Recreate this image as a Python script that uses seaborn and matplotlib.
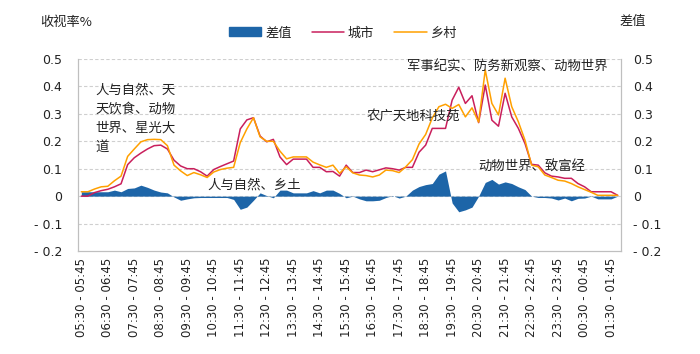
import numpy as np
import pandas as pd
import matplotlib
matplotlib.use("Agg")
import matplotlib.pyplot as plt
from matplotlib.patches import Patch
from matplotlib.lines import Line2D
import seaborn as sns

# ---------------- data ----------------
hours = ["05", "06", "07", "08", "09", "10", "11", "12", "13", "14", "15", "16",
         "17", "18", "19", "20", "21", "22", "23", "00", "01"]

city = [0.000, 0.000, 0.013, 0.020, 0.025, 0.034, 0.045, 0.115, 0.140, 0.157,
        0.172, 0.184, 0.186, 0.172, 0.131, 0.110, 0.100, 0.100, 0.089, 0.073,
        0.097, 0.108, 0.118, 0.128, 0.245, 0.278, 0.286, 0.219, 0.198, 0.207,
        0.143, 0.115, 0.135, 0.135, 0.135, 0.105, 0.105, 0.089, 0.090, 0.073,
        0.113, 0.086, 0.086, 0.095, 0.089, 0.096, 0.103, 0.100, 0.095, 0.105,
        0.105, 0.160, 0.186, 0.247, 0.247, 0.247, 0.350, 0.397, 0.338, 0.366,
        0.268, 0.405, 0.277, 0.255, 0.375, 0.289, 0.247, 0.192, 0.116, 0.113,
        0.085, 0.073, 0.070, 0.065, 0.065, 0.046, 0.034, 0.016, 0.016, 0.016,
        0.016, 0.003]

rural = [0.016, 0.016, 0.026, 0.034, 0.036, 0.056, 0.073, 0.145, 0.172, 0.198,
         0.206, 0.207, 0.206, 0.184, 0.113, 0.092, 0.075, 0.086, 0.078, 0.068,
         0.088, 0.097, 0.102, 0.105, 0.195, 0.245, 0.286, 0.216, 0.200, 0.200,
         0.164, 0.136, 0.143, 0.143, 0.143, 0.124, 0.114, 0.105, 0.113, 0.083,
         0.107, 0.085, 0.077, 0.075, 0.070, 0.077, 0.095, 0.093, 0.086, 0.107,
         0.133, 0.190, 0.225, 0.285, 0.326, 0.335, 0.320, 0.334, 0.289, 0.322,
         0.270, 0.460, 0.338, 0.296, 0.430, 0.326, 0.271, 0.204, 0.113, 0.107,
         0.077, 0.068, 0.058, 0.055, 0.046, 0.034, 0.024, 0.014, 0.003, 0.003,
         0.003, 0.003]

diff = [0.016, 0.016, 0.016, 0.016, 0.016, 0.022, 0.016, 0.028, 0.030, 0.040,
        0.032, 0.022, 0.015, 0.012, -0.003, -0.015, -0.010, -0.006, -0.005, -0.005,
        -0.005, -0.005, -0.005, -0.012, -0.048, -0.040, -0.015, 0.012, 0.002, -0.006,
        0.022, 0.022, 0.012, 0.012, 0.012, 0.020, 0.012, 0.022, 0.022, 0.010,
        -0.006, 0.000, -0.010, -0.017, -0.017, -0.015, -0.005, 0.002, -0.007, 0.000,
        0.022, 0.035, 0.042, 0.046, 0.080, 0.092, -0.025, -0.057, -0.050, -0.040,
        0.000, 0.050, 0.061, 0.044, 0.052, 0.046, 0.034, 0.024, 0.000, -0.005,
        -0.005, -0.007, -0.014, -0.007, -0.017, -0.008, -0.007, 0.000, -0.010, -0.010,
        -0.010, 0.000]

tick_labels = [f"{h}:30 - {h}:45" for h in hours]
tick_idx = list(range(0, 82, 4))

y_ticks = [0.5, 0.4, 0.3, 0.2, 0.1, 0.0, -0.1, -0.2]
y_tick_labels = ["0.5", "0.4", "0.3", "0.2", "0.1", "0", "- 0.1", "- 0.2"]

annotations = [
    ("人与自然、天\n天饮食、动物\n世界、星光大\n道", 95, 83),
    ("人与自然、乡土", 207, 178),
    ("农广天地科技苑", 367, 110),
    ("军事纪实、防务新观察、动物世界", 407, 60),
    ("动物世界、致富经", 478, 160),
]

df = pd.DataFrame({"idx": np.arange(len(city)), "城市": city, "乡村": rural, "差值": diff})

# ---------------- style ----------------
sns.set_theme(style="white")
plt.rcParams["font.family"] = ["Noto Sans CJK SC", "DejaVu Sans"]

BLUE = "#1D65A8"
CITY = "#C91F5C"
RURAL = "#FFA000"
GRID = "#CFCFCF"
AXC = "#BFBFBF"
TXT = "#222222"

fig = plt.figure(figsize=(7.0, 3.54), dpi=100)
ax = fig.add_axes([78 / 700, 1 - 251 / 354, (621 - 78) / 700, (251 - 59) / 354])

ax.set_xlim(-0.5, 81.5)
ax.set_ylim(-0.2, 0.5)

for yv in [0.5, 0.4, 0.3, 0.2, 0.1, 0.0, -0.1]:
    ax.axhline(yv, color=GRID, lw=0.8, ls=(0, (3, 2)), zorder=0)

ax.fill_between(df["idx"], 0, df["差值"], color=BLUE, lw=0, zorder=2)
sns.lineplot(data=df, x="idx", y="城市", ax=ax, color=CITY, lw=1.1, zorder=3, legend=False)
sns.lineplot(data=df, x="idx", y="乡村", ax=ax, color=RURAL, lw=1.1, zorder=4, legend=False)

ax.set_xlabel("")
ax.set_ylabel("")

ax.set_xticks(tick_idx)
ax.set_xticklabels(tick_labels, rotation=90, fontsize=8.5, family="DejaVu Sans", color=TXT)
ax.set_xticks(np.arange(-0.5, 82, 1), minor=True)
ax.tick_params(axis="x", which="major", length=0, pad=5)
ax.tick_params(axis="x", which="minor", length=4, color=AXC, width=0.8, direction="out")

ax.set_yticks(y_ticks)
ax.set_yticklabels(y_tick_labels, fontsize=9, family="DejaVu Sans", color=TXT)
ax.tick_params(axis="y", which="major", length=0, pad=11.5)

ax.spines["top"].set_visible(False)
for s in ["left", "right", "bottom"]:
    ax.spines[s].set_color(AXC)
    ax.spines[s].set_linewidth(0.8)

ax2 = ax.twinx()
ax2.set_ylim(-0.2, 0.5)
ax2.set_yticks(y_ticks)
ax2.set_yticklabels(y_tick_labels, fontsize=9, family="DejaVu Sans", color=TXT)
ax2.tick_params(axis="y", length=0, pad=8.5)
ax2.spines["top"].set_visible(False)
for s in ["left", "right", "bottom"]:
    ax2.spines[s].set_color(AXC)
    ax2.spines[s].set_linewidth(0.8)

# annotations (pixel coordinates of the figure)
for txt, px, py in annotations:
    fig.text(px / 700, 1 - py / 354, txt, fontsize=9.6, va="top", ha="left",
             color=TXT, linespacing=1.45)

fig.text(40 / 700, 1 - 22 / 354, "收视率%", fontsize=9.5, va="center", ha="left", color=TXT)
fig.text(620 / 700, 1 - 22 / 354, "差值", fontsize=9.5, va="center", ha="left", color=TXT)

handles = [Patch(facecolor=BLUE, edgecolor=BLUE),
           Line2D([0], [0], color=CITY, lw=1.1),
           Line2D([0], [0], color=RURAL, lw=1.1)]
fig.legend(handles, ["差值", "城市", "乡村"], loc="center", bbox_to_anchor=(343 / 700, 1 - 33 / 354),
           ncol=3, frameon=False, fontsize=9.5, handlelength=2.45, handleheight=0.65,
           columnspacing=1.5, handletextpad=0.3, labelcolor=TXT)

fig.savefig("out.png", dpi=100)
